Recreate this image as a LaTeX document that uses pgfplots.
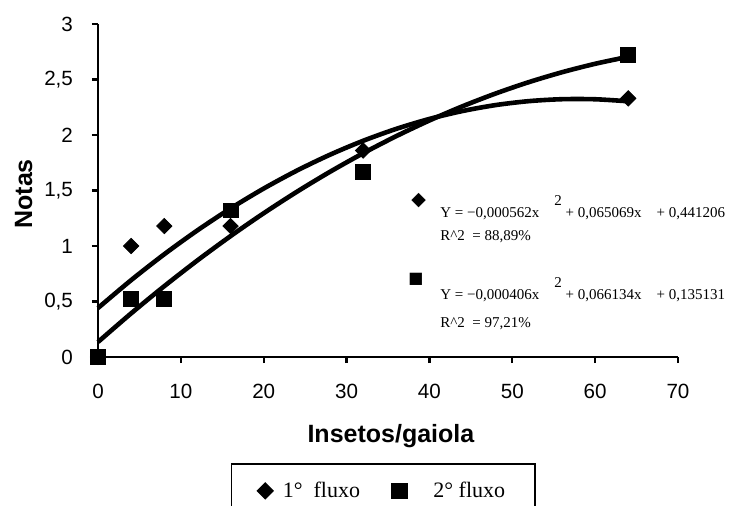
\documentclass[border=0pt]{standalone}
\usepackage{pgfplots}
\pgfplotsset{compat=1.18}
\usepackage{fontspec}
\setmainfont{Liberation Serif}
\setsansfont{Liberation Sans}
\newfontfamily\sym{DejaVu Sans}

% 1 px of the reference = 0.5pt
\begin{document}
\begin{tikzpicture}
\path[use as bounding box] (-49pt,-74pt) rectangle (320pt,178.5pt);
\begin{axis}[
  at={(0,0)}, anchor=south west,
  scale only axis, width=290pt, height=166.5pt,
  xmin=0, xmax=70, ymin=0, ymax=3,
  axis x line*=bottom, axis y line*=left,
  axis line style={line width=1.2pt, -},
  xtick={0,10,...,70}, ytick={0,0.5,...,3},
  tick align=outside, major tick length=3pt,
  every tick/.style={black, line width=1.2pt},
  /pgf/number format/use comma,
  /pgf/number format/assume math mode=true,
  ticklabel style={font=\sffamily\fontsize{10.3}{12}\selectfont},
  xticklabel style={yshift=-7pt},
  yticklabel style={xshift=-6pt},
  xlabel={Insetos/gaiola}, ylabel={Notas},
  label style={font=\sffamily\bfseries\fontsize{12.5}{14}\selectfont},
  xlabel style={at={(axis description cs:0.505,-0.237)}, anchor=center},
  ylabel style={at={(axis description cs:-0.128,0.49)}, anchor=center},
  clip=false,
  legend columns=2,
  legend style={at={(axis description cs:0.492,-0.318)}, anchor=north,
    draw=black, line width=0.8pt, font=\fontsize{11}{13}\selectfont,
    inner xsep=13pt, inner ysep=7pt,
    /tikz/every odd column/.append style={column sep=3pt},
    /tikz/every even column/.append style={column sep=14pt}},
]
% fitted curves
\addplot[line width=2.3pt, smooth, forget plot] coordinates {
  (0,0.4412) (4,0.6925) (8,0.9258) (12,1.1411) (16,1.3384) (20,1.5178)
  (24,1.6792) (28,1.8225) (32,1.9479) (36,2.0553) (40,2.1448) (44,2.2162)
  (48,2.2697) (52,2.3051) (56,2.3226) (60,2.3221) (64,2.3037)
};
\addplot[line width=2.3pt, smooth, forget plot] coordinates {
  (0,0.1351) (4,0.3932) (8,0.6382) (12,0.8703) (16,1.0893) (20,1.2954)
  (24,1.4885) (28,1.6686) (32,1.8357) (36,1.9898) (40,2.1309) (44,2.2590)
  (48,2.3741) (52,2.4763) (56,2.5654) (60,2.6416) (64,2.7047)
};
% observed values
\addplot[only marks, mark=square*, mark size=2.7pt, mark options={rotate=45, fill=black}] coordinates {
  (0,0) (4,1.0) (8,1.18) (16,1.18) (32,1.86) (64,2.33)
};
\addlegendentry{1°\ \ fluxo}
\addplot[only marks, mark=square*, mark size=3.7pt, mark options={fill=black}] coordinates {
  (0,0) (4,0.52) (8,0.52) (16,1.32) (32,1.67) (64,2.72)
};
\addlegendentry{\ \ \ 2° fluxo}
\end{axis}
% regression equations
\begin{scope}[every node/.style={inner sep=0pt, anchor=base west, font=\fontsize{7.5}{9}\selectfont}]
\node at (156.5pt,76pt) {\sym\fontsize{9.5}{10}\selectfont ◆};
\node at (171pt,70pt) {Y\ =\ −0,000562x\quad\raisebox{6pt}{2}\ +\ 0,065069x\quad +\ 0,441206};
\node at (171pt,58.5pt) {R\textasciicircum 2\ \ =\ 88,89\%};
\node at (155pt,37pt) {\sym\fontsize{8}{9}\selectfont ■};
\node at (171pt,29pt) {Y\ =\ −0,000406x\quad\raisebox{6pt}{2}\ +\ 0,066134x\quad +\ 0,135131};
\node at (171pt,15pt) {R\textasciicircum 2\ \ =\ 97,21\%};
\end{scope}
\end{tikzpicture}
\end{document}
